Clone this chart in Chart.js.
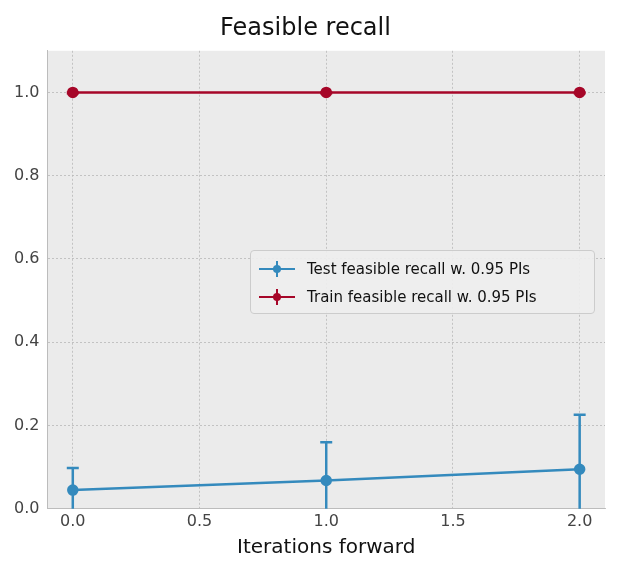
<!DOCTYPE html>
<html>
<head>
<script src="https://cdn.jsdelivr.net/npm/chart.js@4"></script>
<style>
  body { margin: 0; background: #fff; font-family: "DejaVu Sans", sans-serif; }
  #wrap { position: relative; width: 621px; height: 570px; }
  #legend { position: absolute; left: 250px; top: 250px; width: 345px; height: 64px;
    background: rgba(238,238,238,0.9); border: 1px solid #ccc; border-radius: 4px;
    font-size: 15px; color: #111; box-sizing: border-box; padding: 4px 8px; }
  .row { display: flex; align-items: center; height: 28px; }
  .sw { width: 36px; height: 16px; margin-right: 12px; position: relative; }
  .sw .ln { position: absolute; left: 0; right: 0; top: 7px; height: 2px; }
  .sw .dot { position: absolute; left: 14px; top: 4px; width: 8px; height: 8px; border-radius: 50%; }
  .sw .eb { position: absolute; left: 17px; top: 0; width: 2px; height: 16px; }
</style>
</head>
<body>
<div id="wrap">
  <canvas id="c" width="621" height="570"></canvas>
  <div id="legend"></div>
</div>
<script>
const iterations = [0, 1, 2];
const testRecall = [0.045, 0.068, 0.095];
const testLow = [-0.05, -0.05, -0.05];
const testHigh = [0.098, 0.16, 0.226];
const trainRecall = [1.0, 1.0, 1.0];
const trainLow = [0.998, 0.998, 0.998];
const trainHigh = [1.0, 1.0, 1.0];
const yTicks = [0, 0.2, 0.4, 0.6, 0.8, 1.0];
const xTicks = [0, 0.5, 1, 1.5, 2];

const blue = "#348ABD";
const red = "#A60628";

const errorBars = {
  id: "errorBars",
  afterDatasetsDraw(chart) {
    const ctx = chart.ctx;
    const x = chart.scales.x, y = chart.scales.y;
    const sets = [[testLow, testHigh, blue], [trainLow, trainHigh, red]];
    ctx.save();
    ctx.beginPath();
    ctx.rect(chart.chartArea.left, chart.chartArea.top, chart.chartArea.width, chart.chartArea.height);
    ctx.clip();
    sets.forEach(([lo, hi, col]) => {
      ctx.strokeStyle = col;
      ctx.lineWidth = 2.5;
      iterations.forEach((it, i) => {
        const px = x.getPixelForValue(it);
        const y1 = y.getPixelForValue(lo[i]), y2 = y.getPixelForValue(hi[i]);
        ctx.beginPath();
        ctx.moveTo(px, y1); ctx.lineTo(px, y2);
        ctx.moveTo(px - 6, y2); ctx.lineTo(px + 6, y2);
        ctx.moveTo(px - 6, y1); ctx.lineTo(px + 6, y1);
        ctx.stroke();
      });
    });
    ctx.restore();
  }
};

const plotBg = {
  id: "plotBg",
  beforeDraw(chart) {
    const a = chart.chartArea, ctx = chart.ctx;
    ctx.save();
    ctx.fillStyle = "#ebebeb";
    ctx.fillRect(a.left, a.top, a.width, a.height);
    ctx.restore();
  }
};

new Chart(document.getElementById("c"), {
  type: "line",
  data: {
    datasets: [
      { label: "Test feasible recall w. 0.95 PIs", data: iterations.map((v, i) => ({ x: v, y: testRecall[i] })),
        borderColor: blue, backgroundColor: blue, borderWidth: 2.5, pointRadius: 4.5, pointHoverRadius: 4.5 },
      { label: "Train feasible recall w. 0.95 PIs", data: iterations.map((v, i) => ({ x: v, y: trainRecall[i] })),
        borderColor: red, backgroundColor: red, borderWidth: 2.5, pointRadius: 4.5, pointHoverRadius: 4.5 }
    ]
  },
  options: {
    responsive: false,
    animation: false,
    layout: { padding: { left: 6, right: 16, top: 8, bottom: 6 } },
    plugins: {
      legend: { display: false },
      tooltip: { enabled: false },
      title: { display: true, text: "Feasible recall", color: "#111",
        font: { family: "DejaVu Sans", size: 24, weight: "normal" }, padding: { top: 6, bottom: 8 } }
    },
    scales: {
      x: { type: "linear", min: -0.1, max: 2.1,
        afterBuildTicks: s => { s.ticks = xTicks.map(v => ({ value: v })); },
        ticks: { color: "#444", font: { family: "DejaVu Sans", size: 16 }, callback: v => v.toFixed(1) },
        grid: { color: "#b8b8b8", lineWidth: 0.8, tickLength: 0 },
        border: { color: "#bcbcbc" },
        title: { display: true, text: "Iterations forward", color: "#111", font: { family: "DejaVu Sans", size: 20 }, padding: { top: 2 } } },
      y: { type: "linear", min: 0, max: 1.1,
        afterBuildTicks: s => { s.ticks = yTicks.map(v => ({ value: v })); },
        ticks: { color: "#444", font: { family: "DejaVu Sans", size: 16 }, callback: v => v.toFixed(1), padding: 8 },
        grid: { color: "#b8b8b8", lineWidth: 0.8, tickLength: 0 },
        border: { color: "#bcbcbc" } }
    }
  },
  plugins: [plotBg, errorBars]
});

// dotted grid lines
const ch = Chart.getChart("c");
ch.options.scales.x.border.dash = [2, 2];
ch.options.scales.y.border.dash = [2, 2];
ch.update();

const legend = document.getElementById("legend");
[[blue, ch.data.datasets[0].label], [red, ch.data.datasets[1].label]].forEach(([col, label]) => {
  const r = document.createElement("div");
  r.className = "row";
  r.innerHTML = `<div class="sw"><div class="ln" style="background:${col}"></div><div class="eb" style="background:${col}"></div><div class="dot" style="background:${col}"></div></div><span>${label}</span>`;
  legend.appendChild(r);
});
</script>
</body>
</html>
